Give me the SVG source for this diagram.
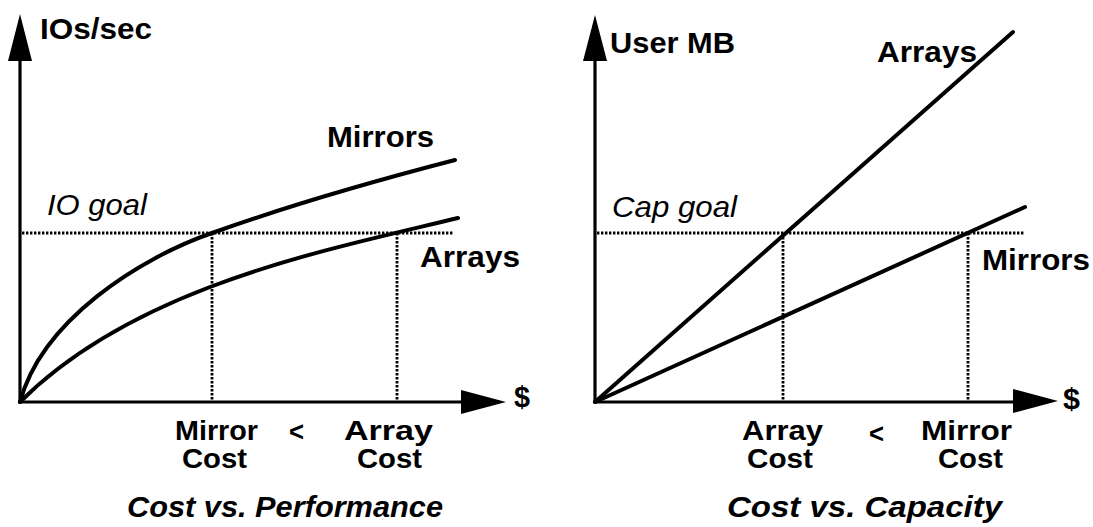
<svg xmlns="http://www.w3.org/2000/svg" width="1093" height="527" viewBox="0 0 1093 527">
<style>
.t{font-family:"Liberation Sans",Arial,sans-serif;font-weight:bold;font-size:30px;fill:#000}
.s{font-size:28px}
.i{font-family:"Liberation Sans",Arial,sans-serif;font-style:italic;font-size:29px;fill:#000}
.bi{font-family:"Liberation Sans",Arial,sans-serif;font-style:italic;font-weight:bold;font-size:30px;fill:#000}
.ax{stroke:#000;stroke-width:3.2;fill:none}
.cv{stroke:#000;stroke-width:4;fill:none;stroke-linecap:round}
.dt{stroke:#000;stroke-width:2.8;fill:none;stroke-dasharray:2.4 1.6}
.ah{fill:#000}
</style>
<rect width="1093" height="527" fill="#fff"/>
<g id="left-chart">
  <g id="left-axes">
    <line class="ax" x1="20" y1="403" x2="20" y2="50"/>
    <polygon class="ah" points="20,14 8,61 32,61"/>
    <line class="ax" x1="20" y1="402" x2="470" y2="402"/>
    <polygon class="ah" points="506,402 461,390 461,414"/>
    <text class="t" x="40" y="39" textLength="112" lengthAdjust="spacingAndGlyphs">IOs/sec</text>
    <text class="t" x="514" y="407" textLength="16" lengthAdjust="spacingAndGlyphs">$</text>
  </g>
  <g id="left-connectors">
    <line class="dt" x1="22" y1="233" x2="454" y2="233"/>
    <line class="dt" x1="212" y1="233" x2="212" y2="401"/>
    <line class="dt" x1="397" y1="233" x2="397" y2="401"/>
    <path id="left-mirrors-curve" class="cv" d="M20,402 C42,320 140,258 212,233 C293,204 374,181 455,160"/>
    <path id="left-arrays-curve" class="cv" d="M20,402 C75,347 147,311 210,287 C293,255.5 375,238 458,218"/>
  </g>
  <g id="left-labels">
    <text class="t" x="327" y="147" textLength="107" lengthAdjust="spacingAndGlyphs">Mirrors</text>
    <text class="i" x="47" y="215" textLength="100" lengthAdjust="spacingAndGlyphs">IO goal</text>
    <text class="t" x="420" y="267" textLength="100" lengthAdjust="spacingAndGlyphs">Arrays</text>
    <text class="t s" x="175" y="440" textLength="83" lengthAdjust="spacingAndGlyphs">Mirror</text>
    <text class="t s" x="289" y="441" textLength="15" lengthAdjust="spacingAndGlyphs">&lt;</text>
    <text class="t s" x="344" y="440" textLength="89" lengthAdjust="spacingAndGlyphs">Array</text>
    <text class="t s" x="182" y="468" textLength="65" lengthAdjust="spacingAndGlyphs">Cost</text>
    <text class="t s" x="357" y="468" textLength="65" lengthAdjust="spacingAndGlyphs">Cost</text>
    <text class="bi" x="127" y="517" textLength="316" lengthAdjust="spacingAndGlyphs">Cost vs. Performance</text>
  </g>
</g>
<g id="right-chart">
  <g id="right-axes">
    <line class="ax" x1="595" y1="403" x2="595" y2="50"/>
    <polygon class="ah" points="595,15 583,61 607,61"/>
    <line class="ax" x1="595" y1="402" x2="1020" y2="402"/>
    <polygon class="ah" points="1058,401 1013,389 1013,413"/>
    <text class="t" x="610" y="53" textLength="125" lengthAdjust="spacingAndGlyphs">User MB</text>
    <text class="t" x="1063" y="409" textLength="17" lengthAdjust="spacingAndGlyphs">$</text>
  </g>
  <g id="right-connectors">
    <line class="dt" x1="597" y1="233" x2="1025" y2="233"/>
    <line class="dt" x1="783" y1="233" x2="783" y2="401"/>
    <line class="dt" x1="968" y1="233" x2="968" y2="401"/>
    <line id="right-arrays-line" class="cv" x1="595" y1="402" x2="1013" y2="32"/>
    <line id="right-mirrors-line" class="cv" x1="595" y1="402" x2="1025" y2="207"/>
  </g>
  <g id="right-labels">
    <text class="t" x="877" y="62" textLength="100" lengthAdjust="spacingAndGlyphs">Arrays</text>
    <text class="i" x="612" y="217" textLength="125" lengthAdjust="spacingAndGlyphs">Cap goal</text>
    <text class="t" x="982" y="270" textLength="108" lengthAdjust="spacingAndGlyphs">Mirrors</text>
    <text class="t s" x="742" y="440" textLength="81" lengthAdjust="spacingAndGlyphs">Array</text>
    <text class="t s" x="869" y="443" textLength="15" lengthAdjust="spacingAndGlyphs">&lt;</text>
    <text class="t s" x="921" y="440" textLength="91" lengthAdjust="spacingAndGlyphs">Mirror</text>
    <text class="t s" x="747" y="468" textLength="66" lengthAdjust="spacingAndGlyphs">Cost</text>
    <text class="t s" x="938" y="468" textLength="65" lengthAdjust="spacingAndGlyphs">Cost</text>
    <text class="bi" x="727" y="517" textLength="275" lengthAdjust="spacingAndGlyphs">Cost vs. Capacity</text>
  </g>
</g>
</svg>
